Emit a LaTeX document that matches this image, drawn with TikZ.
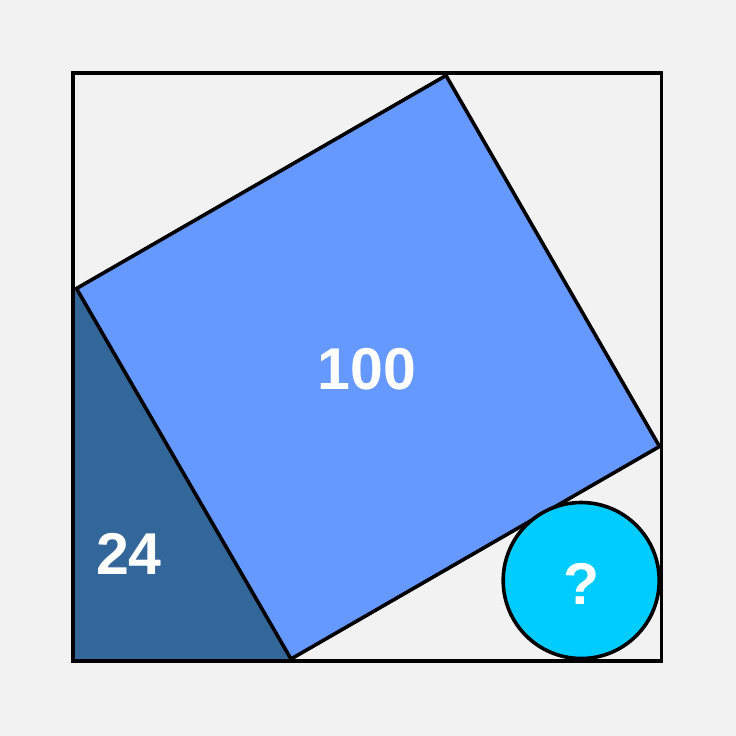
\documentclass[tikz,border=0pt]{standalone}
\usepackage{fontspec}
\setmainfont{Liberation Sans}
\definecolor{bgc}{HTML}{F2F2F2}
\definecolor{sqc}{HTML}{6699FF}
\definecolor{trc}{HTML}{336699}
\definecolor{cic}{HTML}{00CCFF}
\begin{document}
\begin{tikzpicture}[x=1pt,y=-1pt,
  edge/.style={draw=black,line width=3.6pt,line join=miter},
  lbl/.style={text=white,font=\fontsize{59}{59}\selectfont\bfseries,inner sep=0pt}]
\fill[bgc] (0,0) rectangle (736,736);
\useasboundingbox (0,0) rectangle (736,736);
\coordinate (A) at (73,73);
\coordinate (B) at (661.5,73);
\coordinate (C) at (661.5,661);
\coordinate (D) at (73,661);
\coordinate (P) at (76.5,288.5);
\coordinate (Q) at (446,75.5);
\coordinate (R) at (659.5,446.5);
\coordinate (S) at (291,659);
\fill[trc] (73,288.5) -- (P) -- (S) -- (291,661) -- (D) -- cycle;
\filldraw[edge,fill=sqc] (P) -- (Q) -- (R) -- (S) -- cycle;
\filldraw[edge,fill=cic] (581.2,580.5) circle[radius=78];
\draw[edge] (A) rectangle (C);
\node[lbl] (t100) at (367,369) {100};
\node[lbl] (t24) at (129,554) {24};
\node[lbl] (tq) at (582,584) {?};
\end{tikzpicture}
\end{document}
